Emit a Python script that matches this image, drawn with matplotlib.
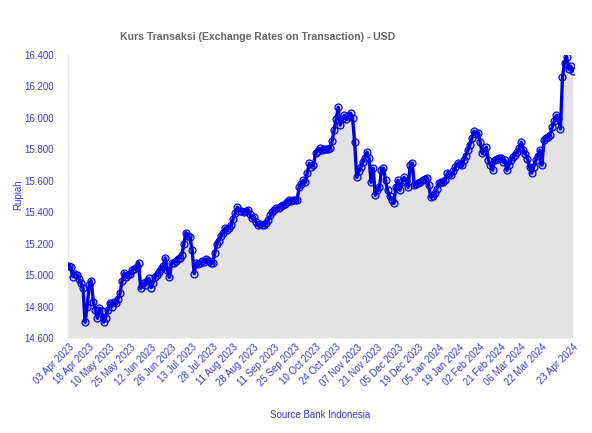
import matplotlib
matplotlib.use("Agg")
import matplotlib.pyplot as plt
from matplotlib.ticker import FuncFormatter, FixedLocator

title = "Kurs Transaksi (Exchange Rates on Transaction) - USD"
y_label = "Rupiah"
x_label = "Source Bank Indonesia"

rates = [
    15060, 15050, 14990, 15010, 15000, 14975, 14950, 14920, 14700, 14800,
    14935, 14965, 14830, 14780,
    14725, 14790, 14770, 14700, 14730, 14775, 14825, 14800, 14830, 14820,
    14850, 14885, 14965, 15015, 14990, 15000, 15010, 15030, 15040, 15050,
    15080, 14915, 14950, 14935, 14960, 14980, 14920, 14950, 14990, 15000,
    15020, 15040, 15060,
    15110, 15030, 14985, 15075, 15080, 15090, 15105, 15110, 15125, 15200,
    15270, 15250, 15240, 15160, 15010, 15075, 15070, 15075, 15090, 15085,
    15105, 15090, 15080,
    15075, 15140, 15200, 15220, 15250, 15265, 15300, 15290, 15300, 15317,
    15360, 15393, 15432, 15410, 15405, 15400, 15405, 15412, 15390, 15362,
    15370, 15340, 15317, 15325, 15320,
    15317, 15330, 15350, 15380, 15400, 15415, 15425, 15430, 15440, 15444,
    15455, 15465, 15475, 15470, 15475,
    15480, 15475, 15558, 15580, 15603, 15590, 15650, 15711, 15690, 15700,
    15775, 15790, 15807, 15795, 15800, 15805, 15800,
    15807, 15850, 15922, 15990, 16068, 15954, 15990, 16017, 15990, 16010,
    16030, 16000, 15845, 15622, 15660, 15686, 15720, 15744, 15782, 15744,
    15590, 15680, 15508, 15540, 15558, 15667, 15680, 15603, 15540, 15500,
    15480,
    15457, 15558, 15603, 15540, 15590, 15622, 15600, 15558, 15699, 15711,
    15571, 15580, 15584, 15595, 15605, 15610,
    15616, 15571, 15495, 15500, 15520, 15550, 15584, 15590, 15595, 15603,
    15648, 15640, 15635, 15660, 15690, 15711, 15705, 15700, 15731, 15760,
    15795, 15830, 15871, 15916, 15900, 15905, 15845, 15775, 15790, 15814,
    15731, 15700, 15667, 15731, 15740, 15742,
    15744, 15720, 15731, 15667, 15700, 15731, 15750, 15765, 15782, 15810,
    15845, 15795, 15770,
    15740, 15686, 15648, 15690, 15731, 15760, 15795, 15699, 15858, 15870,
    15880, 15890, 15941, 15980, 16017, 16000, 15930, 16260, 16350, 16390,
    16310, 16330, 16300,
]

tick_labels = [
    "03 Apr 2023", "18 Apr 2023", "10 May 2023", "25 May 2023", "12 Jun 2023",
    "26 Jun 2023", "13 Jul 2023", "28 Jul 2023", "11 Aug 2023", "28 Aug 2023",
    "11 Sep 2023", "25 Sep 2023", "10 Oct 2023", "24 Oct 2023", "07 Nov 2023",
    "21 Nov 2023", "05 Dec 2023", "19 Dec 2023", "05 Jan 2024", "19 Jan 2024",
    "02 Feb 2024", "21 Feb 2024", "06 Mar 2024", "22 Mar 2024", "23 Apr 2024",
]

y_ticks = [14600, 14800, 15000, 15200, 15400, 15600, 15800, 16000, 16200, 16400]

blue_txt = "#3a3ad6"

plt.rcParams["font.family"] = ["Liberation Sans", "DejaVu Sans"]

fig = plt.figure(figsize=(5.92, 4.33), dpi=100)
W, H = 592, 433
ax = fig.add_axes([68 / W, 1 - 338 / H, (574 - 68) / W, (338 - 55) / H])

n = len(rates)
xs = list(range(n))
ax.fill_between(xs, rates, y_ticks[0], color="#e3e3e3", lw=0, zorder=1)
ax.plot(xs, rates, color="#0000ee", lw=2.4, zorder=3,
        marker="o", markersize=5, markerfacecolor=(0, 0, 1, 0.12),
        markeredgecolor="#0000ee", markeredgewidth=0.9)

ax.set_xlim(-0.3, n - 1 + 0.6)
ax.set_ylim(y_ticks[0], y_ticks[-1])

tick_pos = list(range(0, 10 * (len(tick_labels) - 1), 10)) + [n - 1]
ax.xaxis.set_major_locator(FixedLocator(tick_pos))
ax.set_xticklabels(tick_labels, rotation=45, ha="right", rotation_mode="anchor",
                   fontsize=7, color=blue_txt)
ax.set_yticks(y_ticks)
ax.yaxis.set_major_formatter(FuncFormatter(lambda v, p: f"{int(v):,}".replace(",", ".")))
ax.tick_params(axis="y", labelsize=7, labelcolor=blue_txt, length=0, pad=10)
ax.tick_params(axis="x", length=0, pad=3)

for s in ["top", "right", "bottom"]:
    ax.spines[s].set_visible(False)
ax.spines["left"].set_color("#e6e6e6")
ax.spines["left"].set_linewidth(1)

fig.text(258 / W, 1 - 37 / H, title, ha="center", va="center",
         fontsize=7.6, fontweight="bold", color="#666666")
fig.text(18 / W, 1 - 195 / H, y_label, ha="center", va="center", rotation=90,
         fontsize=7, color=blue_txt)
fig.text(320 / W, 1 - 415 / H, x_label, ha="center", va="center",
         fontsize=7, color=blue_txt)

fig.savefig("out.png", dpi=100)
